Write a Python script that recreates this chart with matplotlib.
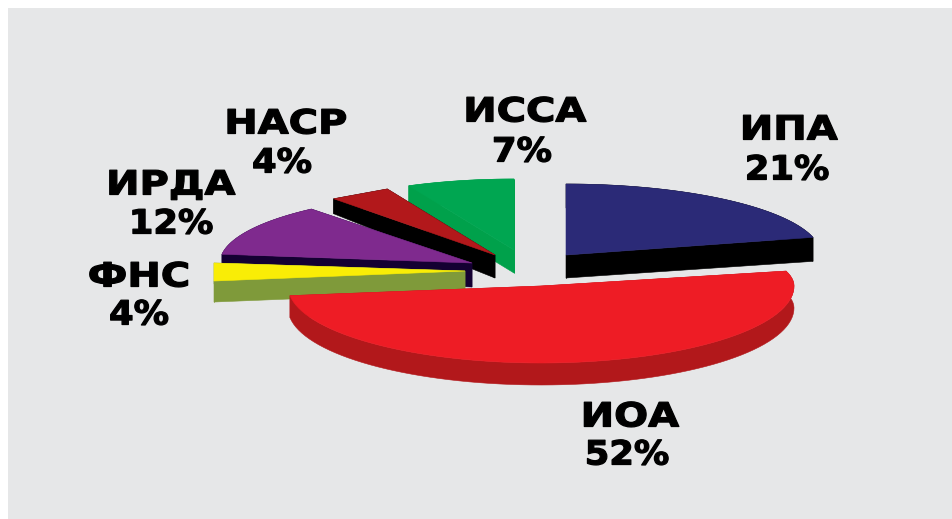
"""
Exploded 3D-look pie chart of revenue shares, drawn with plain polygons
so the squashed rim and the side walls can be controlled per slice.
"""
import matplotlib
matplotlib.use("Agg")
import matplotlib.pyplot as plt
import matplotlib.patheffects as pe
import numpy as np
from matplotlib.transforms import Affine2D

LABELS = ["ИПА", "ИОА", "ФНС", "ИРДА", "НАСР", "ИССА"]
SHARES = [21, 52, 4, 12, 4, 7]

TOP_COLORS  = ["#2b2a77", "#ee1c25", "#f9ed06", "#7f2a8e", "#b2181b", "#00a651"]
SIDE_COLORS = ["#000000", "#b2181b", "#7f9a3a", "#140032", "#000000", "#00a14b"]

# pie geometry in axes units (the axes run in figure pixels)
CENTER  = (520, 270)
EXPLODE = [(46, -15), (21, 16), (-55, 1), (-48, -7), (-25, -15), (-6, -20)]
RX      = [255, 253, 253, 252, 253, 247]
RY_UP   = [71, 60, 64, 70, 73, 71]
RY_DOWN = [71, 77, 80, 70, 73, 71]
DEPTH     = [23, 22, 21, 24, 23, 23]
RIM_DEPTH = [24, 22, 21, 24, 15, 23]
DRAW_ORDER = [5, 0, 4, 3, 2, 1]

NAME_POS = [(789, 130), (630, 417), (139, 277), (171, 185), (286, 124), (525, 112)]
PCT_POS  = [(787, 170), (627, 455), (139, 315), (171, 224), (282, 163), (522, 152)]


class Stretch(pe.AbstractPathEffect):
    """Widen text around x0 (display px), the fonts here are narrower than the original."""

    def __init__(self, x0, factor):
        super().__init__()
        self.x0, self.factor = x0, factor

    def draw_path(self, renderer, gc, tpath, affine, rgbFace=None):
        wide = affine + Affine2D().translate(-self.x0, 0).scale(self.factor, 1).translate(self.x0, 0)
        gc.set_linewidth(0.9)
        gc.set_foreground("black")
        renderer.draw_path(gc, tpath, wide, rgbFace)


def project(theta, i):
    """Clockwise angle from 12 o'clock to a point on the squashed rim of slice i."""
    u, v = np.sin(theta), np.cos(theta)
    cx, cy = CENTER[0] + EXPLODE[i][0], CENTER[1] + EXPLODE[i][1]
    ry = np.where(v >= 0, RY_UP[i], RY_DOWN[i])
    return cx + RX[i] * u, cy - ry * v


def draw_slice(ax, i, start, end):
    cx, cy = CENTER[0] + EXPLODE[i][0], CENTER[1] + EXPLODE[i][1]
    # the thin slices have a straight outer edge in the original
    theta = np.linspace(start, end, 2 if SHARES[i] <= 4 else 80)
    x, y = project(theta, i)
    style = dict(lw=0.4, zorder=2)

    # side walls first: the rim plus both cut faces pushed down by the depth
    rim = np.full_like(theta, RIM_DEPTH[i], dtype=float)
    side = SIDE_COLORS[i]
    ax.fill(np.r_[x, x[::-1]], np.r_[y, (y + rim)[::-1]], fc=side, ec=side, **style)
    for k in (0, -1):
        ax.fill([cx, x[k], x[k], cx],
                [cy, y[k], y[k] + rim[k], cy + DEPTH[i]], fc=side, ec=side, **style)
    ax.fill(np.r_[cx, x], np.r_[cy, y], fc=TOP_COLORS[i], ec=TOP_COLORS[i], **style)


def main():
    fig = plt.figure(figsize=(9.53, 5.19), dpi=100, facecolor="white")
    ax = fig.add_axes([0, 0, 1, 1])
    ax.set_xlim(0, 953)
    ax.set_ylim(519, 0)
    ax.axis("off")
    ax.add_patch(plt.Rectangle((8, 8), 945, 511, color="#e6e7e8", lw=0, zorder=0))

    edges = 2 * np.pi * np.cumsum([0] + SHARES) / sum(SHARES)
    for i in DRAW_ORDER:
        draw_slice(ax, i, edges[i], edges[i + 1])

    for name, share, npos, ppos in zip(LABELS, SHARES, NAME_POS, PCT_POS):
        for text, pos, factor in ((name, npos, 1.2), (f"{share}%", ppos, 1.06)):
            ax.text(pos[0], pos[1], text, ha="center", va="center",
                    family="DejaVu Sans", fontweight="bold", fontsize=24,
                    color="black", zorder=3,
                    path_effects=[Stretch(pos[0], factor)])

    fig.savefig("out.png", dpi=100)


if __name__ == "__main__":
    main()
